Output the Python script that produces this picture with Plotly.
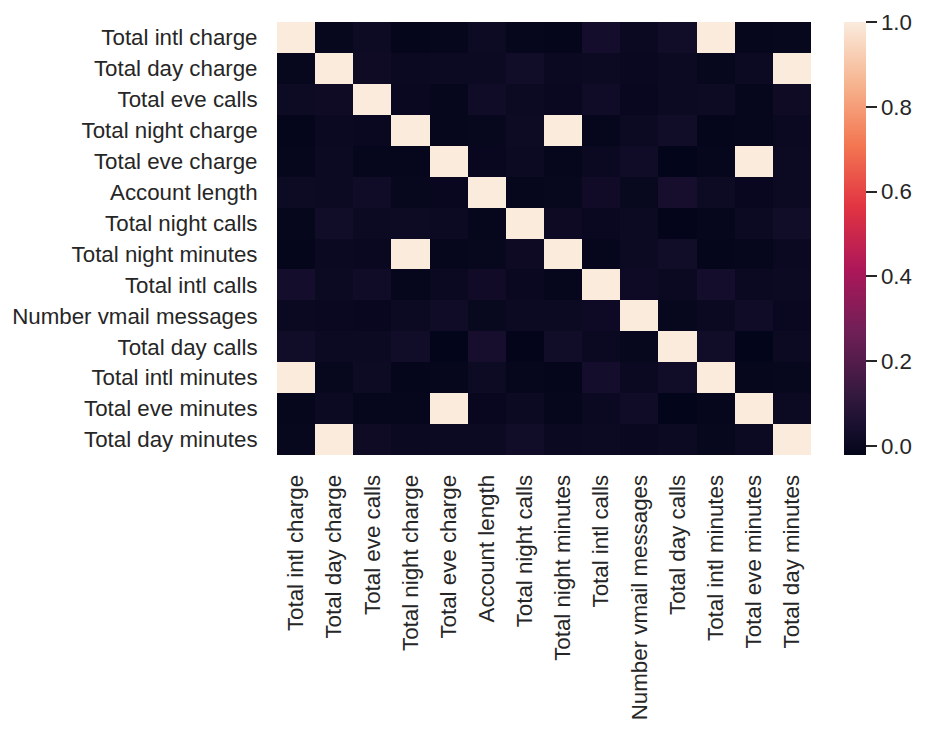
import plotly.graph_objects as go

labels = ["Total intl charge", "Total day charge", "Total eve calls", "Total night charge",
          "Total eve charge", "Account length", "Total night calls", "Total night minutes",
          "Total intl calls", "Number vmail messages", "Total day calls", "Total intl minutes",
          "Total eve minutes", "Total day minutes"]

row_intl_charge = [1.0, -0.010094, 0.008674, -0.015186, -0.011074, 0.009546, -0.013630, -0.015180, 0.032372, 0.002884, 0.021666, 0.999993, -0.011067, -0.010092]
row_day_charge = [-0.010094, 1.0, 0.015769, 0.004301, 0.007036, 0.006214, 0.022972, 0.004324, 0.008032, 0.000776, 0.006753, -0.010157, 0.007050, 1.0]
row_eve_calls = [0.008674, 0.015769, 1.0, -0.002056, -0.011423, 0.019260, 0.007710, -0.002093, 0.017434, -0.005864, 0.006462, 0.008703, -0.011430, 0.015769]
row_night_charge = [-0.015186, 0.004301, -0.002056, 1.0, -0.012601, -0.008960, 0.011188, 0.999999, -0.012329, 0.007663, 0.022927, -0.015214, -0.012593, 0.004300]
row_eve_charge = [-0.011074, 0.007036, -0.011423, -0.012601, 1.0, -0.006745, 0.007596, -0.012592, 0.002541, 0.017578, -0.021449, -0.011043, 1.0, 0.007029]
row_account_length = [0.009546, 0.006214, 0.019260, -0.008960, -0.006745, 1.0, -0.013176, -0.008955, 0.020661, -0.004628, 0.038470, 0.009514, -0.006757, 0.006216]
row_night_calls = [-0.013630, 0.022972, 0.007710, 0.011188, 0.007596, -0.013176, 1.0, 0.011204, 0.000305, 0.007123, -0.019557, -0.013605, 0.007586, 0.022972]
row_night_minutes = [-0.015180, 0.004324, -0.002093, 0.999999, -0.012592, -0.008955, 0.011204, 1.0, -0.012353, 0.007681, 0.022938, -0.015207, -0.012584, 0.004323]
row_intl_calls = [0.032372, 0.008032, 0.017434, -0.012329, 0.002541, 0.020661, 0.000305, -0.012353, 1.0, 0.013957, 0.004574, 0.032304, 0.002541, 0.008033]
row_vmail = [0.002884, 0.000776, -0.005864, 0.007663, 0.017578, -0.004628, 0.007123, 0.007681, 0.013957, 1.0, -0.009548, 0.002856, 0.017562, 0.000778]
row_day_calls = [0.021666, 0.006753, 0.006462, 0.022927, -0.021449, 0.038470, -0.019557, 0.022938, 0.004574, -0.009548, 1.0, 0.021565, -0.021451, 0.006750]
row_intl_minutes = [0.999993, -0.010157, 0.008703, -0.015214, -0.011043, 0.009514, -0.013605, -0.015207, 0.032304, 0.002856, 0.021565, 1.0, -0.011035, -0.010155]
row_eve_minutes = [-0.011067, 0.007050, -0.011430, -0.012593, 1.0, -0.006757, 0.007586, -0.012584, 0.002541, 0.017562, -0.021451, -0.011035, 1.0, 0.007043]
row_day_minutes = [-0.010092, 1.0, 0.015769, 0.004300, 0.007029, 0.006216, 0.022972, 0.004323, 0.008033, 0.000778, 0.006750, -0.010155, 0.007043, 1.0]

z = [row_intl_charge, row_day_charge, row_eve_calls, row_night_charge, row_eve_charge,
     row_account_length, row_night_calls, row_night_minutes, row_intl_calls, row_vmail,
     row_day_calls, row_intl_minutes, row_eve_minutes, row_day_minutes]

colorbar_ticks = [0.0, 0.2, 0.4, 0.6, 0.8, 1.0]

rocket = [
    [0.0, "#03051A"],
    [0.07, "#1a1030"],
    [0.1429, "#35193e"],
    [0.2857, "#701f57"],
    [0.4286, "#ad1759"],
    [0.5714, "#e13342"],
    [0.7143, "#f37651"],
    [0.8571, "#f6b48f"],
    [1.0, "#FAEBDD"],
]

FONT = "Liberation Sans, Arial, sans-serif"
TXT = "#262626"
FS = 22.3

L, R, T, B = 275, 118, 22, 275
W, H = 929, 732
pw = W - L - R

fig = go.Figure(go.Heatmap(
    z=z, x=labels, y=labels,
    colorscale=rocket,
    zmax=1.0,
    xgap=0, ygap=0,
    colorbar=dict(
        x=(844 - L) / pw, xanchor="left", xpad=0,
        y=0.5, yanchor="middle", len=1.0, lenmode="fraction", ypad=0,
        thickness=22, outlinewidth=0,
        tickvals=colorbar_ticks, tickformat=".1f", tickprefix="\u00a0",
        ticks="outside", ticklen=11, tickwidth=2, tickcolor=TXT,
        tickfont=dict(family=FONT, size=FS, color=TXT),
    ),
))

fig.update_layout(
    width=W, height=H,
    margin=dict(l=L, r=R, t=T, b=B),
    paper_bgcolor="white", plot_bgcolor="white",
    font=dict(family=FONT, size=FS, color=TXT),
    xaxis=dict(tickangle=-90, ticks="outside", ticklen=10, tickcolor="rgba(0,0,0,0)",
               showgrid=False, zeroline=False, showline=False,
               tickfont=dict(family=FONT, size=FS, color=TXT)),
    yaxis=dict(autorange="reversed", ticks="outside", ticklen=14, tickcolor="rgba(0,0,0,0)",
               showgrid=False, zeroline=False, showline=False,
               tickfont=dict(family=FONT, size=FS, color=TXT)),
)

fig.write_html("out.html")
